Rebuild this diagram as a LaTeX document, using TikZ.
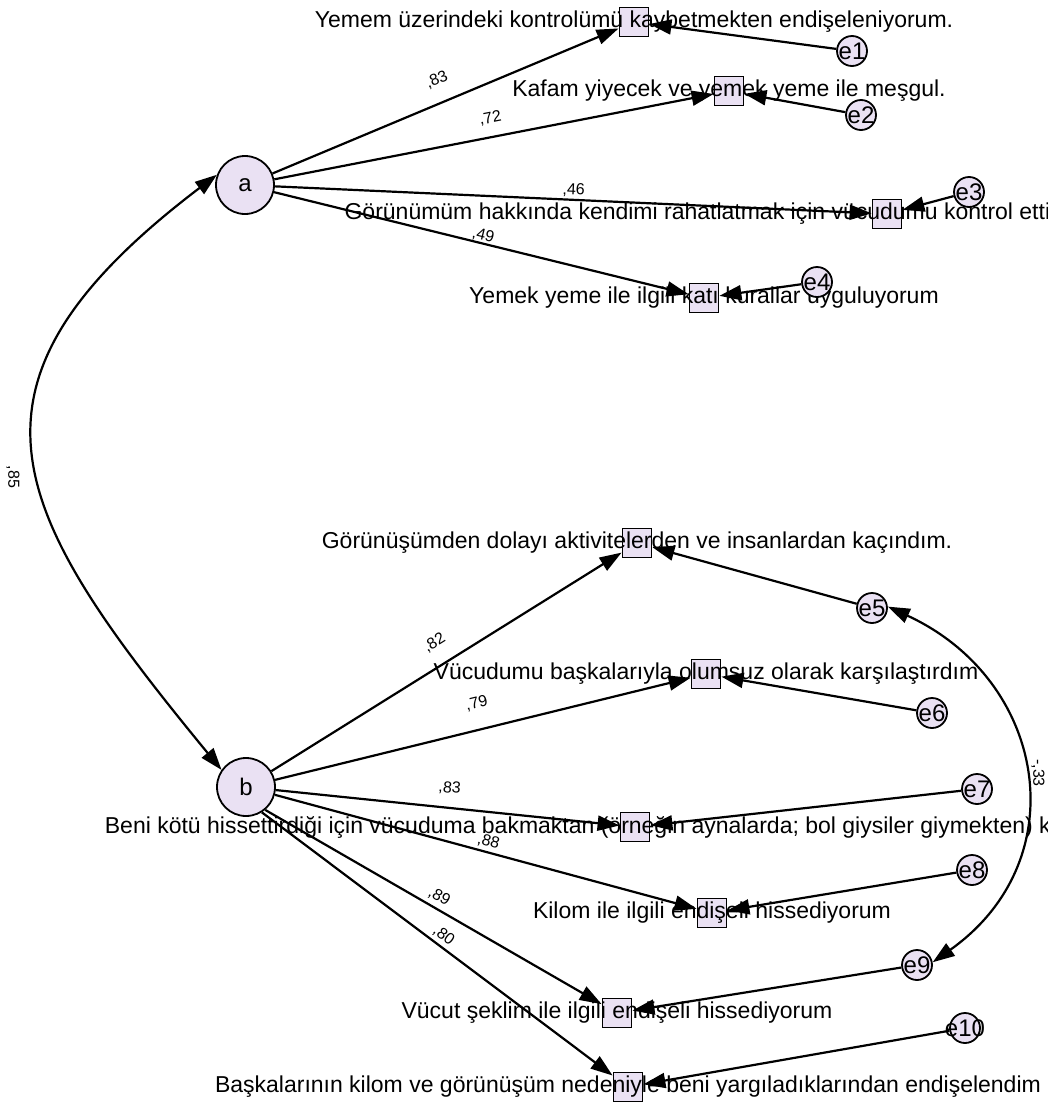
\documentclass[tikz,border=0pt]{standalone}
\usepackage{fontspec}
\setmainfont{Liberation Sans}
\usetikzlibrary{arrows.meta}
\definecolor{lav}{RGB}{234,225,243}
\tikzset{%
    >={Triangle[length=22pt,width=15pt]},
    latent/.style={circle,draw,line width=1.8pt,fill=lav,minimum size=58pt,inner sep=0pt,font=\fontsize{24}{24}\selectfont},
    obs/.style={rectangle,draw,line width=1.8pt,fill=lav,minimum size=29pt,inner sep=0pt},
    err/.style={circle,draw,line width=1.8pt,fill=lav,minimum size=30pt,inner sep=0pt},
    errtxt/.style={font=\fontsize{24}{24}\selectfont,inner sep=0pt},
    itemtxt/.style={font=\fontsize{23}{23}\selectfont,inner sep=0pt},
    coef/.style={font=\fontsize{16}{16}\selectfont,sloped,inner sep=1pt},
    coefv/.style={font=\fontsize{16}{16}\selectfont,rotate=-90,inner sep=1pt}
}

\begin{document}
\begin{tikzpicture}[x=1pt,y=-1pt,->,line width=2.2pt]
\useasboundingbox (0,0) rectangle (1048,1106);
% factors
\node [latent] (a) at (245,185) {a};
\node [latent] (b) at (246,787) {b};
% items of a
\node [obs,label={[itemtxt]center:{Yemem üzerindeki kontrolümü kaybetmekten endişeleniyorum.}}] (v1) at (634,22) {};
\node [obs,label={[itemtxt]center:{Kafam yiyecek ve yemek yeme ile meşgul.}}] (v2) at (729,91) {};
\node [obs,label={[itemtxt,xshift=-180pt]center:{Görünümüm hakkında kendimi rahatlatmak için vücudumu kontrol ettim}}] (v3) at (887,214) {};
\node [obs,label={[itemtxt]center:{Yemek yeme ile ilgili katı kurallar uyguluyorum}}] (v4) at (704,298) {};
% items of b
\node [obs,label={[itemtxt]center:{Görünüşümden dolayı aktivitelerden ve insanlardan kaçındım.}}] (v5) at (637,543) {};
\node [obs,label={[itemtxt]center:{Vücudumu başkalarıyla olumsuz olarak karşılaştırdım}}] (v6) at (706,674) {};
\node [obs,label={[itemtxt,xshift=-13pt]center:{Beni kötü hissettirdiği için vücuduma bakmaktan (örneğin aynalarda; bol giysiler giymekten) kaçındım.}}] (v7) at (635,827) {};
\node [obs,label={[itemtxt]center:{Kilom ile ilgili endişeli hissediyorum}}] (v8) at (712,913) {};
\node [obs,label={[itemtxt]center:{Vücut şeklim ile ilgili endişeli hissediyorum}}] (v9) at (617,1013) {};
\node [obs,label={[itemtxt]center:{Başkalarının kilom ve görünüşüm nedeniyle beni yargıladıklarından endişelendim}}] (v10) at (628,1087) {};
% errors
\node [err,label={[errtxt]center:e1}] (e1) at (852,51) {};
\node [err,label={[errtxt]center:e2}] (e2) at (861,115) {};
\node [err,label={[errtxt]center:e3}] (e3) at (969,192) {};
\node [err,label={[errtxt]center:e4}] (e4) at (817,282) {};
\node [err,label={[errtxt]center:e5}] (e5) at (872,608) {};
\node [err,label={[errtxt]center:e6}] (e6) at (932,713) {};
\node [err,label={[errtxt]center:e7}] (e7) at (977,789) {};
\node [err,label={[errtxt]center:e8}] (e8) at (972,870) {};
\node [err,label={[errtxt]center:e9}] (e9) at (917,965) {};
\node [err,label={[errtxt]center:e10}] (e10) at (965,1028) {};
%%%%%
\path (a) edge node[coef,above=14pt]{,83} (v1)
          edge node[coef,above=10pt]{,72} (v2)
          edge node[coef,above=1pt]{,46} (v3)
          edge node[coef,above=-1pt]{,49} (v4)
      (b) edge node[coef,above=14pt]{,82} (v5)
          edge node[coef,above=17pt]{,79} (v6)
          edge node[coef,above=11pt]{,83} (v7)
          edge node[coef,above=2pt]{,88} (v8)
      (b.-50) edge node[coef,above=3pt]{,89} (v9)
      (b.-58) edge node[coef,above=2pt]{,80} (v10);
\path (e1) edge (v1)  (e2) edge (v2)  (e3) edge (v3)  (e4) edge (v4)
      (e5) edge (v5)  (e6) edge (v6)  (e7) edge (v7)  (e8) edge (v8)
      (e9) edge (v9)  (e10) edge (v10);
% covariances
\draw [<->] (a.160) .. controls (-60,385) and (8,510) .. (b.145);
\node [coefv] (cab) at (13,477) {,85};
\draw [<->] (e5.5) .. controls (1047,680) and (1077,860) .. (e9.10);
\node [coefv] (c59) at (1038,773) {-,33};
\end{tikzpicture}
\end{document}
